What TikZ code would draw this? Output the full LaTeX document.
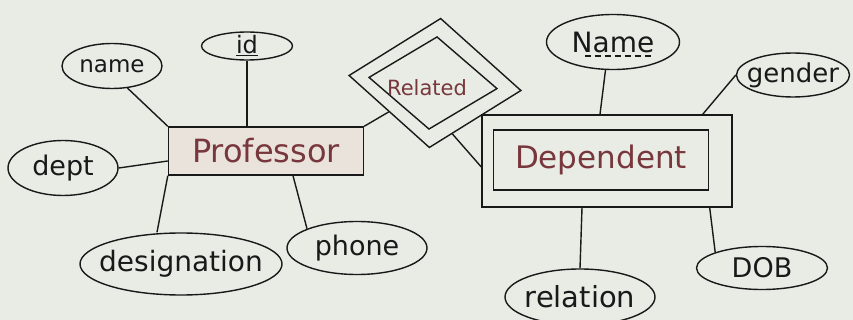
\documentclass[tikz,border=0pt]{standalone}
\usepackage{fontspec}
\setmainfont{DejaVu Sans}
\usetikzlibrary{shapes.geometric,calc}
\definecolor{bgc}{RGB}{232,236,229}
\definecolor{ink}{RGB}{25,25,25}
\definecolor{redink}{RGB}{120,55,60}
\newcommand{\fsz}[1]{\fontsize{#1}{#1}\selectfont}
\tikzset{
  attr/.style={draw=ink, line width=1.4pt, ellipse, inner sep=0pt},
  lbl/.style={text=ink, inner sep=0pt},
  entity/.style={draw=ink, line width=1.4pt, rectangle, inner sep=0pt, text=redink},
  rel/.style={draw=ink, line width=1.4pt, diamond, inner sep=0pt},
  conn/.style={draw=ink, line width=1.4pt}
}
\begin{document}
\begin{tikzpicture}[x=1pt,y=-1pt]
\useasboundingbox (0,0) rectangle (853,320);
\fill[bgc] (0,0) rectangle (853,320);
% Professor
\node[entity, fill=red!4!bgc, minimum width=195pt, minimum height=48pt, font=\fsz{32}] (prof) at (266,151) {Professor};
\node[attr, minimum width=100pt, minimum height=45pt, label={[lbl,font=\fsz{23}]center:name}] (name) at (112,66) {};
\node[attr, minimum width=91pt, minimum height=28pt, label={[lbl,font=\fsz{24}]center:\underline{id}}] (id) at (247,46) {};
\node[attr, minimum width=110pt, minimum height=55pt, label={[lbl,font=\fsz{27}]center:dept}] (dept) at (63,168) {};
\node[attr, minimum width=202pt, minimum height=62pt, label={[lbl,font=\fsz{28}]center:designation}] (desig) at (181,264) {};
\node[attr, minimum width=140pt, minimum height=53pt, label={[lbl,font=\fsz{27}]center:phone}] (phone) at (357,248) {};
% Related
\node[rel, rotate=-5, minimum width=173pt, minimum height=130pt] (relo) at (435,83) {};
\node[rel, rotate=-5, minimum width=129pt, minimum height=93pt] (reli) at (433,83) {};
\node[text=redink, font=\fsz{21}, inner sep=0pt] (reltxt) at (427,88) {Related};
% Dependent
\node[entity, minimum width=250pt, minimum height=92pt] (depo) at (607,161) {};
\node[entity, minimum width=215pt, minimum height=60pt, font=\fsz{31}] (depi) at (601,160) {Dependent};
\node[attr, minimum width=133pt, minimum height=55pt, label={[lbl,font=\fsz{28}]center:Name}] (Name) at (613,42) {};
\draw[ink, line width=1.1pt, dash pattern=on 6pt off 4pt]
  ([xshift=-28pt,yshift=-14pt]Name.center) -- ([xshift=40pt,yshift=-14pt]Name.center);
\node[attr, minimum width=113pt, minimum height=44pt, label={[lbl,font=\fsz{26}]center:gender}] (gender) at (793,75) {};
\node[attr, minimum width=131pt, minimum height=43pt, label={[lbl,font=\fsz{27}]center:DOB}] (dob) at (762,268) {};
\node[attr, minimum width=150pt, minimum height=56pt, label={[lbl,font=\fsz{29}]center:relation}] (relation) at (580,297) {};
% connectors
\draw[conn] (name.-55) -- (prof.north west);
\draw[conn] (id.south) -- (prof.north -| id.south);
\draw[conn] (dept.east) -- ([yshift=-10pt]prof.west);
\draw[conn] (desig.north -| 157,0) -- (prof.south west);
\draw[conn] ([xshift=27pt]prof.south) -- (phone.north west);
\draw[conn] (prof.north east) -- (relo.south west);
\coordinate (rs) at ($(relo.south)!0.25!(relo.east)$);
\draw[conn] (rs) -- ([yshift=-6pt]depo.west);
\draw[conn] (Name.-105) -- (depo.north -| 600,0);
\draw[conn] (gender.west) -- ([xshift=-30pt]depo.north east);
\draw[conn] ([xshift=-23pt]depo.south east) -- (dob.north west);
\draw[conn] ([xshift=-25pt]depo.south) -- (relation.north);
\end{tikzpicture}
\end{document}
